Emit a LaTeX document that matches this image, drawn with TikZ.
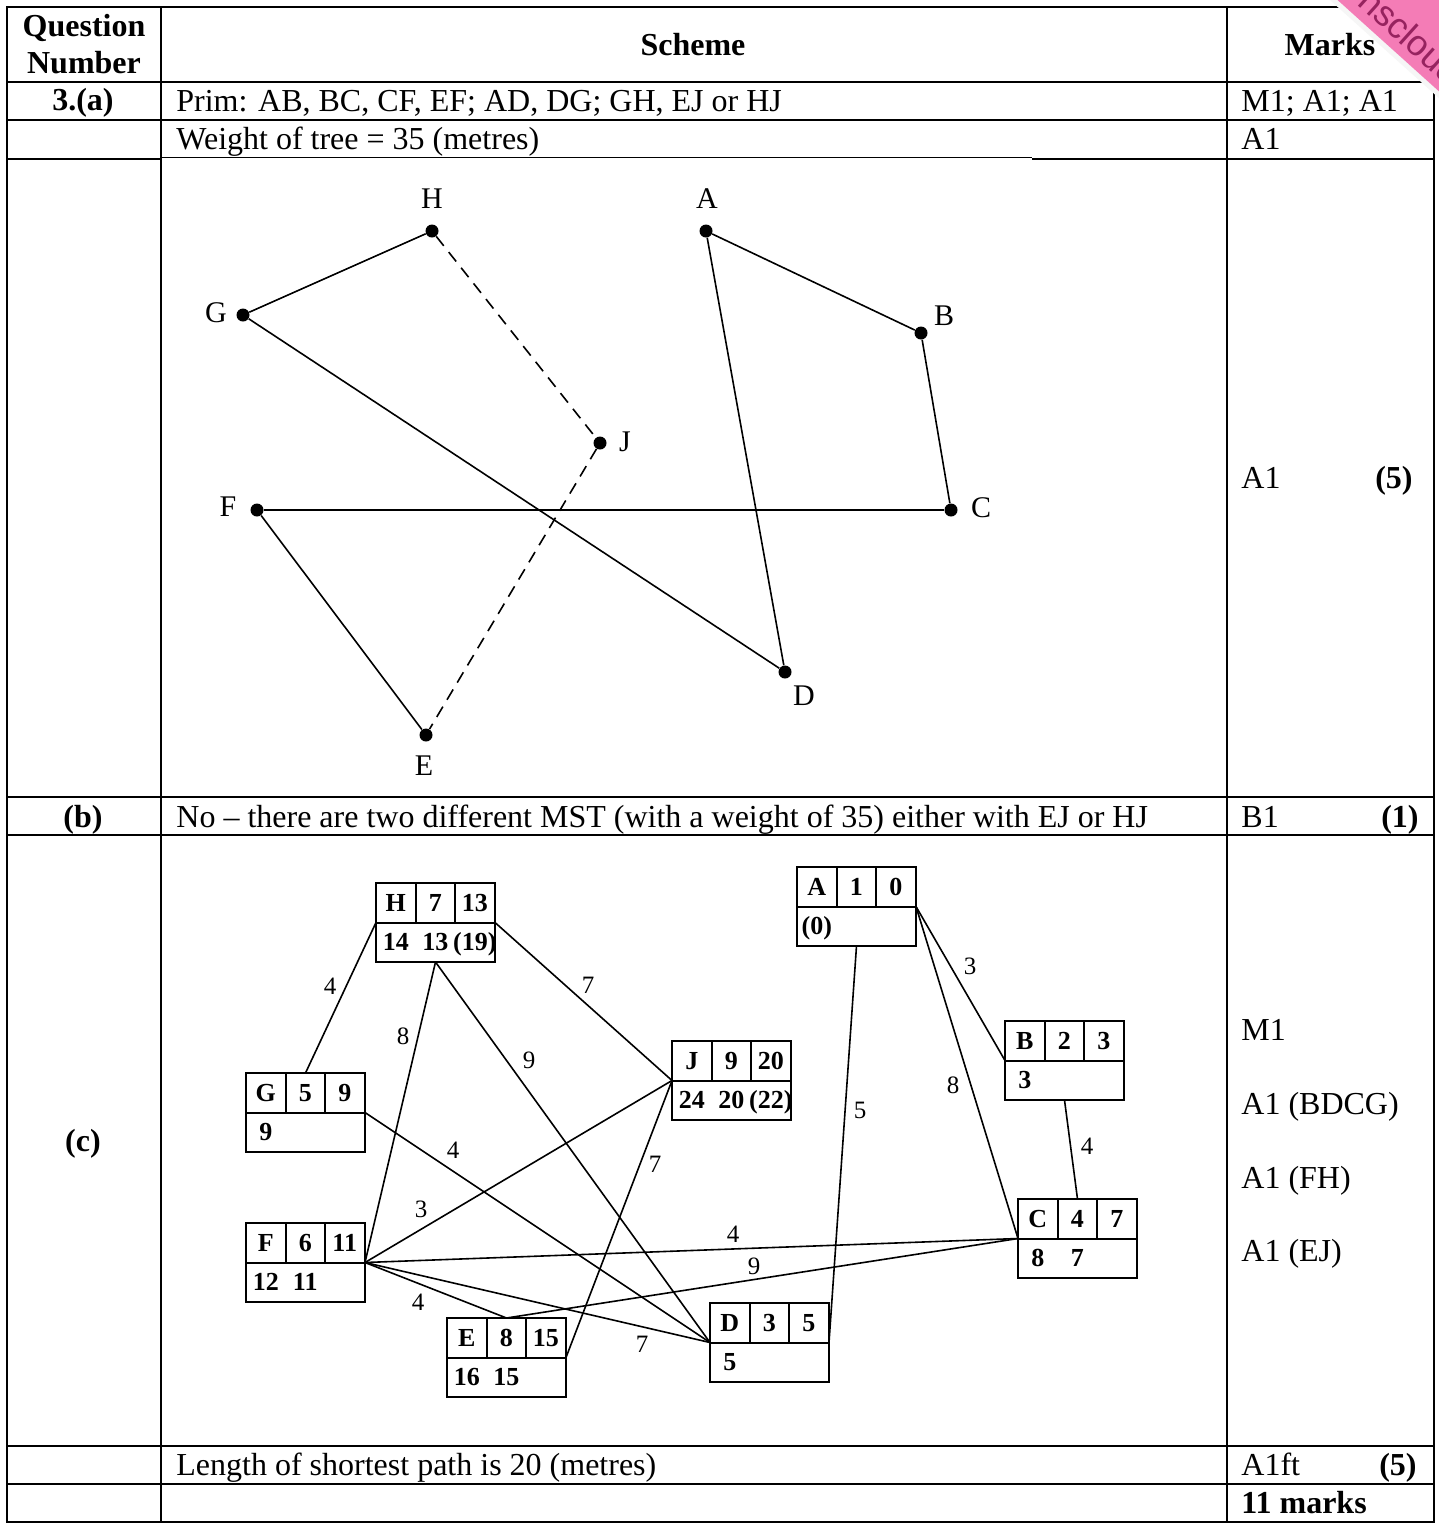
\documentclass[tikz,border=0pt]{standalone}
\usepackage{fontspec}
\setmainfont{Liberation Serif}
\setsansfont{Liberation Sans}
\definecolor{wmpink}{RGB}{244,124,182}
\definecolor{wmtext}{RGB}{150,35,95}
\newcommand\tabbox[9]{%
  \node[bx, anchor=north west] (#1) at (#2,#3) {};
  \draw[bl] (#2,#3+39.5) -- (#2+119,#3+39.5)
            (#2+39.5,#3) -- (#2+39.5,#3+39.5)
            (#2+79,#3) -- (#2+79,#3+39.5);
  \node[bt] at (#2+19.75,#3+28) {#4};
  \node[bt] at (#2+59.25,#3+28) {#5};
  \node[bt] at (#2+98.75,#3+28) {#6};
  \node[bt] at (#2+19.75,#3+67.5) {#7};
  \node[bt] at (#2+59.25,#3+67.5) {#8};
  \node[bt] at (#2+98.75,#3+67.5) {#9};
}
\begin{document}
\begin{tikzpicture}[x=0.5pt,y=-0.5pt,
  tl/.style={line width=1pt},
  txt/.style={font=\fontsize{16}{19}\selectfont, inner sep=0, anchor=base west},
  txtb/.style={font=\fontsize{16}{19}\selectfont\bfseries, inner sep=0, anchor=base},
  vlab/.style={font=\fontsize{15}{18}\selectfont, inner sep=0},
  dot/.style={circle, fill=black, inner sep=0, minimum size=6.5pt},
  edge/.style={line width=0.8pt},
  dedge/.style={line width=0.8pt, dash pattern=on 6pt off 4pt},
  bx/.style={draw, line width=1pt, minimum width=59.5pt, minimum height=39.5pt, inner sep=0, outer sep=0},
  bl/.style={line width=1pt},
  bt/.style={font=\fontsize{13}{15}\selectfont\bfseries, inner sep=0, anchor=base},
  wl/.style={font=\fontsize{12.5}{14}\selectfont, inner sep=0},
  cedge/.style={line width=0.8pt}]
\useasboundingbox (0,0) rectangle (1439,1527);
\fill[white] (0,0) rectangle (1439,1527);

% table
\draw[tl] (7,7) rectangle (1434,1522);
\foreach \yy in {82,120,797,835,1446,1484} \draw[tl] (7,\yy) -- (1434,\yy);
\draw[tl] (7,158.5) -- (161,158.5);
\draw[line width=0.6pt] (161,157.5) -- (1032,157.5);
\draw[tl] (1032,158.5) -- (1434,158.5);
\draw[tl] (161,7) -- (161,1522);
\draw[tl] (1227,7) -- (1227,1522);

% header
\node[txtb] (hq) at (84,36) {Question};
\node[txtb] (hn) at (84,73) {Number};
\node[txtb] (hs) at (693,55) {Scheme};
\node[txtb] (hm) at (1330,55) {Marks};

% rows
\node[txtb] (q3a) at (83,110) {3.(a)};
\node[txt] (prim) at (176,111) {Prim: AB, BC, CF, EF; AD, DG; GH, EJ or HJ};
\node[txt] (m1) at (1241,111) {M1; A1; A1};
\node[txt] (wt) at (176,149) {Weight of tree = 35 (metres)};
\node[txt] (m2) at (1241,149) {A1};
\node[txt] (m3) at (1241,488) {A1};
\node[txtb, anchor=base east] (m3b) at (1413,488) {(5)};
\node[txtb] (qb) at (83,827) {(b)};
\node[txt] (tb) at (176,827) {No -- there are two different MST (with a weight of 35) either with EJ or HJ};
\node[txt] (mb) at (1241,827) {B1};
\node[txtb, anchor=base east] (mbb) at (1419,827) {(1)};
\node[txtb] (qc) at (83,1151) {(c)};
\node[txt] (mc1) at (1241,1040) {M1};
\node[txt] (mc2) at (1241,1114) {A1 (BDCG)};
\node[txt] (mc3) at (1241,1188) {A1 (FH)};
\node[txt] (mc4) at (1241,1261) {A1 (EJ)};
\node[txt] (tl2) at (176,1475) {Length of shortest path is 20 (metres)};
\node[txt] (ml) at (1241,1475) {A1ft};
\node[txtb, anchor=base east] (mlb) at (1417,1475) {(5)};
\node[txtb, anchor=base west] (mt) at (1241,1513) {11 marks};

% graph (a)
\node[dot] (aH) at (432,231) {};
\node[dot] (aA) at (706,231) {};
\node[dot] (aG) at (243,315) {};
\node[dot] (aB) at (921,333) {};
\node[dot] (aJ) at (600,443) {};
\node[dot] (aF) at (257,510) {};
\node[dot] (aC) at (951,510) {};
\node[dot] (aD) at (785,672) {};
\node[dot] (aE) at (426,735) {};
\node[vlab] at (432,199) {H};
\node[vlab] at (707,199) {A};
\node[vlab] at (216,313) {G};
\node[vlab] at (944,316) {B};
\node[vlab] at (625,442) {J};
\node[vlab] at (228,507) {F};
\node[vlab] at (981,508) {C};
\node[vlab] at (804,696) {D};
\node[vlab] at (424,766) {E};
\draw[edge] (aG) -- (aH);
\draw[edge] (aA) -- (aB);
\draw[edge] (aB) -- (aC);
\draw[edge] (aF) -- (aC);
\draw[edge] (aG) -- (aD);
\draw[edge] (aA) -- (aD);
\draw[edge] (aF) -- (aE);
\draw[dedge] (aH) -- (aJ);
\draw[dedge] (aJ) -- (aE);

% graph (c)
\tabbox{bH}{376}{883}{H}{7}{13}{14}{13}{(19)}
\tabbox{bJ}{672}{1041}{J}{9}{20}{24}{20}{(22)}
\tabbox{bG}{246}{1073}{G}{5}{9}{9}{}{}
\tabbox{bF}{246}{1223}{F}{6}{11}{12}{11}{}
\tabbox{bE}{447}{1318}{E}{8}{15}{16}{15}{}
\tabbox{bD}{710}{1303}{D}{3}{5}{5}{}{}
\tabbox{bA}{797}{867}{A}{1}{0}{(0)}{}{}
\tabbox{bB}{1005}{1021}{B}{2}{3}{3}{}{}
\tabbox{bC}{1018}{1199}{C}{4}{7}{8}{7}{}

\draw[cedge] (bH.west) -- (bG.north);
\draw[cedge] (bH.south) -- (bF.east);
\draw[cedge] (bH.south) -- (bD.west);
\draw[cedge] (bH.east) -- (bJ.west);
\draw[cedge] (bJ.west) -- (bF.east);
\draw[cedge] (bJ.west) -- (bE.east);
\draw[cedge] (bG.east) -- (bD.west);
\draw[cedge] (bF.east) -- (bC.west);
\draw[cedge] (bF.east) -- (bE.north);
\draw[cedge] (bF.east) -- (bD.west);
\draw[cedge] (bE.north) -- (bC.west);
\draw[cedge] (bA.south) -- (bD.east);
\draw[cedge] (bA.east) -- (bB.west);
\draw[cedge] (bA.east) -- (bC.west);
\draw[cedge] (bB.south) -- (bC.north);

\node[wl] at (330,986) {4};
\node[wl] at (403,1036) {8};
\node[wl] at (529,1060) {9};
\node[wl] at (588,985) {7};
\node[wl] at (421,1209) {3};
\node[wl] at (655,1164) {7};
\node[wl] at (453,1150) {4};
\node[wl] at (733,1234) {4};
\node[wl] at (418,1302) {4};
\node[wl] at (642,1344) {7};
\node[wl] at (754,1266) {9};
\node[wl] at (860,1110) {5};
\node[wl] at (970,966) {3};
\node[wl] at (953,1085) {8};
\node[wl] at (1087,1146) {4};

% watermark ribbon
\begin{scope}
\clip (0,0) rectangle (1439,1527);
\node[fill=white!93!gray, rotate=-42, minimum width=250pt, minimum height=52.5pt, inner sep=0] (wmw) at (1417.1,7.8) {};
\node[fill=wmpink, rotate=-42, minimum width=250pt, minimum height=50pt, inner sep=0] (wm) at (1418.8,5.9) {};
\node[rotate=-42, font=\sffamily\fontsize{18}{20}\selectfont, text=wmtext, inner sep=0] (wmt) at (1411,36) {nscloud};
\end{scope}
\end{tikzpicture}
\end{document}
